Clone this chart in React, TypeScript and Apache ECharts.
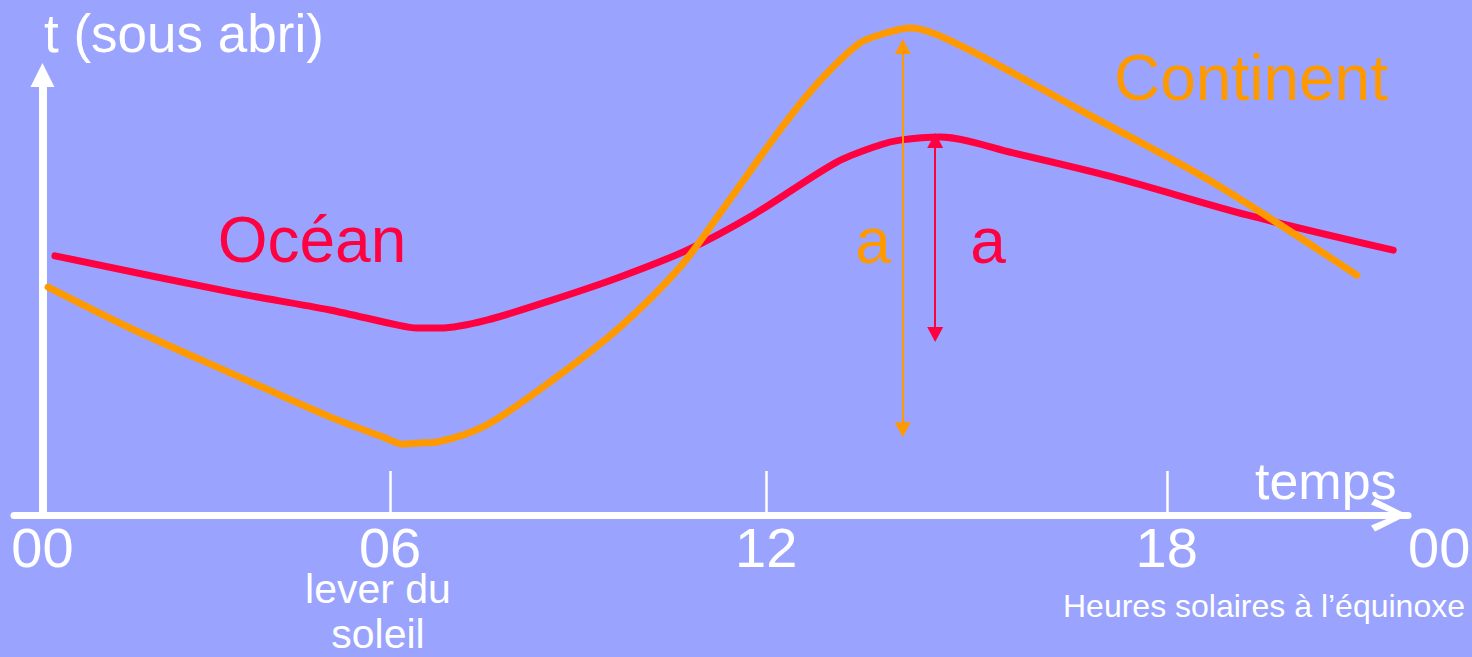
import React, { useEffect, useRef } from "react";
import * as echarts from "echarts";

// Hours as drawn along the (hand-drawn, slightly uneven) time ruler
const OCEAN_HOURS = [0.22, 3.3, 5.05, 6.23, 6.58, 6.99, 7.81, 8.97, 10.15, 11.33, 12.49, 13.96, 14.72, 15.07, 15.78, 17.06, 18.82, 21.17, 23.74];
const OCEAN_TEMP = [58.9, 50.7, 46.6, 43.2, 42.5, 42.5, 44.3, 48.9, 54.1, 60.2, 68.2, 80.2, 84.1, 85.2, 85.9, 82.3, 76.8, 68.2, 60.2];

const CONT_HOURS = [0.1, 1.54, 3.3, 5.05, 5.99, 6.34, 6.69, 6.94, 7.81, 8.97, 10.15, 11.21, 11.91, 12.79, 13.37, 13.84, 14.37, 14.81, 15.25, 16.18, 18.24, 20.58, 23.1];
const CONT_TEMP = [51.8, 42.5, 32.3, 22.3, 17.7, 16.1, 16.4, 16.6, 20.5, 30.7, 42.7, 56.4, 68.6, 84.5, 94.3, 101.1, 107.3, 109.5, 110.7, 106.4, 92.0, 75.5, 54.5];

// Tick positions on the drawn ruler and their labels
const TICK_HOURS = [0, 6.11, 12.72, 19.76, 24];
const TICK_LABELS = ["00", "06", "12", "18", "00"];

// Amplitude arrows "a": [hour, low, high]
const AMP_CONT = [15.12, 19.4, 106.5];
const AMP_OCEAN = [15.69, 41.0, 85.1];

const BG = "#9AA4FE";
const RED = "#FF0040";
const ORANGE = "#FF9900";
const FONT = "'Liberation Sans', Arial, sans-serif";

// visible axes: y 0..100 between px 515 and 75 -> 4.4 px / unit
const Y_TOP_VISIBLE = 100;
const Y_TOP_DATA = 115;

function pairs(xs: number[], ys: number[]) {
  return xs.map((x, i) => [x, ys[i]]);
}

function ampLine(a: number[]) {
  return [[{ coord: [a[0], a[1]] }, { coord: [a[0], a[2]] }]];
}

function txt(text: string, x: number, y: number, size: number, color: string, align = "left", lineHeight?: number) {
  return {
    type: "text",
    x,
    y,
    z: 100,
    silent: true,
    style: {
      text,
      fill: color,
      font: `${size}px ${FONT}`,
      align,
      verticalAlign: "middle",
      lineHeight: lineHeight ?? size,
    },
  };
}

export default function App() {
  const ref = useRef<HTMLDivElement>(null);
  useEffect(() => {
    if (!ref.current) return;
    const chart = echarts.init(ref.current, null, { renderer: "svg" });
    const pxPerUnit = (515 - 75) / Y_TOP_VISIBLE;
    chart.setOption({
      animation: false,
      backgroundColor: BG,
      grid: [
        { left: 14, right: 64, top: 75, bottom: 142, containLabel: false, outerBoundsMode: "none" },
        {
          left: 14,
          right: 64,
          top: 515 - Y_TOP_DATA * pxPerUnit,
          bottom: 142,
          containLabel: false,
          outerBoundsMode: "none",
        },
      ],
      xAxis: [
        {
          gridIndex: 0,
          type: "value",
          min: -0.5,
          max: 24,
          splitLine: { show: false },
          axisLine: {
            show: true,
            onZero: false,
            lineStyle: { color: "#fff", width: 7 },
            symbol: ["none", "path://M16.5,0 L33,33 L27,37 L16.5,12 L6,37 L0,33 Z"],
            symbolSize: [33, 37],
            symbolOffset: [0, -18.5],
          },
          axisTick: {
            show: true,
            inside: true,
            length: 44,
            customValues: TICK_HOURS.slice(1, 4),
            lineStyle: { color: "#fff", width: 2.5 },
          },
          axisLabel: {
            show: true,
            customValues: TICK_HOURS,
            margin: 12,
            lineHeight: 40,
            color: "#fff",
            fontSize: 56,
            fontFamily: FONT,
            showMinLabel: true,
            showMaxLabel: true,
            alignMinLabel: "center",
            alignMaxLabel: "left",
            formatter: (v: number) => {
              let best = 0;
              TICK_HOURS.forEach((t, i) => {
                if (Math.abs(t - v) < Math.abs(TICK_HOURS[best] - v)) best = i;
              });
              return TICK_LABELS[best];
            },
          },
        },
        {
          gridIndex: 1,
          type: "value",
          min: -0.5,
          max: 24,
          show: false,
        },
      ],
      yAxis: [
        {
          gridIndex: 0,
          type: "value",
          min: 0,
          max: Y_TOP_VISIBLE,
          splitLine: { show: false },
          axisTick: { show: false },
          axisLabel: { show: false },
          axisLine: {
            show: true,
            onZero: true,
            lineStyle: { color: "#fff", width: 8 },
            symbol: ["none", "triangle"],
            symbolSize: [24, 24],
          },
        },
        {
          gridIndex: 1,
          type: "value",
          min: 0,
          max: Y_TOP_DATA,
          show: false,
        },
      ],
      series: [
        {
          name: "Océan",
          type: "line",
          xAxisIndex: 1,
          yAxisIndex: 1,
          data: pairs(OCEAN_HOURS, OCEAN_TEMP),
          smooth: 0.3,
          showSymbol: false,
          symbol: "none",
          clip: false,
          lineStyle: { color: RED, width: 7, cap: "round" },
          markLine: {
            silent: true,
            symbol: ["triangle", "triangle"],
            symbolSize: [16, 15],
            label: { show: false },
            lineStyle: { color: RED, width: 2, type: "solid" },
            data: ampLine(AMP_OCEAN),
          },
        },
        {
          name: "Continent",
          type: "line",
          xAxisIndex: 1,
          yAxisIndex: 1,
          data: pairs(CONT_HOURS, CONT_TEMP),
          smooth: 0.3,
          showSymbol: false,
          symbol: "none",
          clip: false,
          lineStyle: { color: ORANGE, width: 7, cap: "round" },
          markLine: {
            silent: true,
            symbol: ["triangle", "triangle"],
            symbolSize: [16, 15],
            label: { show: false },
            lineStyle: { color: ORANGE, width: 2, type: "solid" },
            data: ampLine(AMP_CONT),
          },
        },
      ],
      graphic: [
        txt("t (sous abri)", 44, 33, 53, "#fff"),
        txt("temps", 1255, 481, 52, "#fff"),
        txt("Océan", 312, 240, 64, RED, "center"),
        txt("Continent", 1114, 78, 64, ORANGE),
        txt("a", 873, 241, 64, ORANGE, "center"),
        txt("a", 988, 241, 64, RED, "center"),
        txt("lever du", 378, 589, 41, "#fff", "center", 34),
        txt("soleil", 378, 634, 41, "#fff", "center", 34),
        txt("Heures solaires à l’équinoxe", 1465, 606, 32, "#fff", "right"),
      ],
    });
    return () => chart.dispose();
  }, []);
  return (
    <div
      ref={ref}
      style={{ position: "fixed", left: 0, top: 0, width: 1472, height: 657, background: BG }}
    />
  );
}
